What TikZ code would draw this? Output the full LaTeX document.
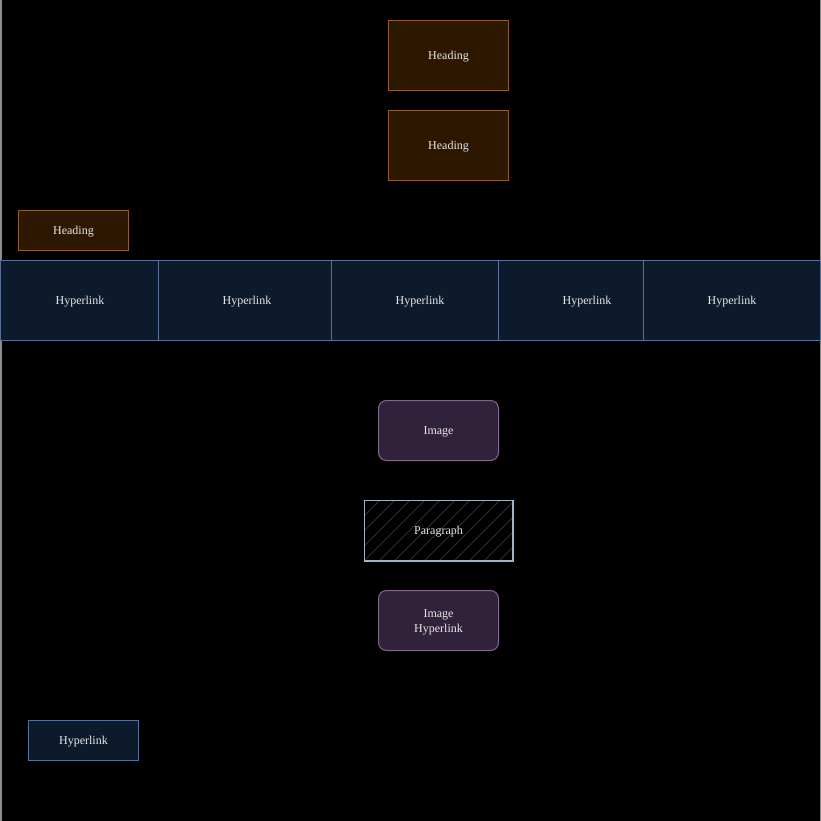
\documentclass[tikz,border=0pt]{standalone}
\usepackage{fontspec}
\setmainfont{Liberation Serif}
% lower a label inside its box without changing the box size
\newcommand\dn[1]{\raisebox{-1.2pt}[\height][\depth]{#1}}
\begin{document}
\begin{tikzpicture}[x=1pt,y=-1pt,
  every node/.style={font=\fontsize{12}{15}\selectfont, text=txt, inner sep=0pt},
  headbox/.style={draw=headline, fill=headfill, line width=1pt},
  linkbox/.style={draw=linkline, fill=linkfill, line width=1pt},
  imgbox/.style={draw=imgline, fill=imgfill, line width=1pt, rounded corners=8pt},
  parabox/.style={draw=paraline, line width=0.9pt},
  edgeline/.style={draw=edgegray, line width=1.5pt}
]
\definecolor{txt}{HTML}{E8E8E8}
\definecolor{headfill}{HTML}{2E1700}
\definecolor{headline}{HTML}{8E5E2C}
\definecolor{linkfill}{HTML}{0C1A2C}
\definecolor{linkline}{HTML}{5B7096}
\definecolor{imgfill}{HTML}{30223A}
\definecolor{imgline}{HTML}{80688C}
\definecolor{paraline}{HTML}{A0B4C4}
\definecolor{hatch}{HTML}{34393E}
\definecolor{edgegray}{HTML}{8C8C8C}

% canvas
\fill[black] (0,0) rectangle (821,821);
\useasboundingbox (0,0) rectangle (821,821);
\draw[edgeline] (0.75,0) -- (0.75,821);
\draw[edgeline] (820.25,0) -- (820.25,821);

% headings
\node[headbox, minimum width=120pt, minimum height=70pt] (h1) at (448.5,55.5) {\dn{Heading}};
\node[headbox, minimum width=120pt, minimum height=70pt] (h2) at (448.5,145.5) {\dn{Heading}};
\node[headbox, minimum width=110pt, minimum height=40pt] (h3) at (73.5,230.5) {\dn{Heading}};

% navigation bar
\node[linkbox, minimum width=820pt, minimum height=80pt] (bar) at (410.5,300.5) {};
\foreach \dx in {158.5,331,498.5,643.5}
  \draw[linkline, line width=1pt] (bar.north -| \dx,0) -- (bar.south -| \dx,0);
\node (l1) at (80,300.5) {\dn{Hyperlink}};
\node (l2) at (247,300.5) {\dn{Hyperlink}};
\node (l3) at (420,300.5) {\dn{Hyperlink}};
\node (l4) at (587,300.5) {\dn{Hyperlink}};
\node (l5) at (732,300.5) {\dn{Hyperlink}};

% content blocks
\node[imgbox, minimum width=120pt, minimum height=60pt] (img) at (438.5,430.5) {\dn{Image}};
\node[parabox, minimum width=148pt, minimum height=60pt] (para) at (438.5,530.5) {};
\begin{scope}
  \clip ([shift={(1,-1)}]para.south west) rectangle ([shift={(-1,1)}]para.north east);
  \foreach \k in {-60,-45,...,210}
    \draw[hatch, line width=0.7pt] (364+\k,561) -- (364+\k+60,501);
\end{scope}
\draw[paraline, line width=0.9pt] (para.south west) rectangle (para.north east);
\node (ptext) at (438.5,530.5) {\dn{Paragraph}};
\node[imgbox, minimum width=120pt, minimum height=60pt] (imglink) at (438.5,620.5)
  {\dn{\begin{tabular}{@{}c@{}}Image\\Hyperlink\end{tabular}}};

% footer link
\node[linkbox, minimum width=110pt, minimum height=40pt] (foot) at (83.5,740.5) {\dn{Hyperlink}};
\end{tikzpicture}
\end{document}
